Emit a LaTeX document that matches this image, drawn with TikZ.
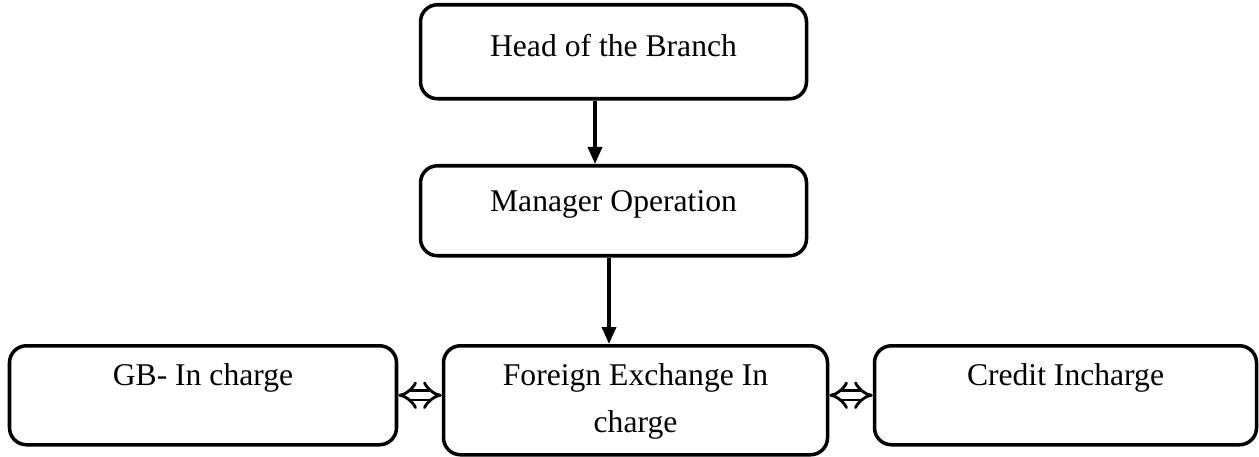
\documentclass[tikz,border=0pt]{standalone}
\usepackage{fontspec}
\setmainfont{Liberation Serif}
\usepackage{tikz}
\usetikzlibrary{positioning,arrows.meta}

\begin{document}
\begin{tikzpicture}[
      every node/.style={align=center, font=\fontsize{18}{27}\selectfont},
      unit/.style={draw, line width=2pt, rounded corners=0.34cm, anchor=north, inner sep=0pt, minimum width=7.72cm},
      arrow/.style={line width=2pt, -{Triangle[width=0.28cm,length=0.34cm]}},
      link/.style={double, line width=1.6pt, double distance=0.13cm, {Implies}-{Implies}}
    ]
      \useasboundingbox (0,0) rectangle (25.18,9.12);
      \node[unit, text height=1.04cm, text depth=0.84cm] (head) at (12.27,9.06) {Head of the Branch};
      \node[unit, text height=0.92cm, text depth=0.88cm] (mgr) at (12.27,5.84) {Manager Operation};
      \node[unit, minimum width=7.68cm, text height=1.74cm, text depth=0.44cm] (fx) at (12.71,2.24) {Foreign Exchange In\\charge};
      \node[unit, minimum width=7.74cm, text height=0.8cm, text depth=1.18cm] (gb) at (4.06,2.24) {GB- In charge};
      \node[unit, minimum width=7.64cm, text height=0.8cm, text depth=1.18cm] (credit) at (21.31,2.24) {Credit Incharge};
      \draw[arrow] ([xshift=-0.37cm]head.south) -- ([xshift=-0.37cm]mgr.north);
      \draw[arrow] ([xshift=-0.09cm]mgr.south) -- ([xshift=-0.09cm]mgr.south |- fx.north);
      % Side links
      \draw[link] (gb.east) -- (gb.east -| fx.west);
      \draw[link] (credit.west -| fx.east) -- (credit.west);
    \end{tikzpicture}
\end{document}
